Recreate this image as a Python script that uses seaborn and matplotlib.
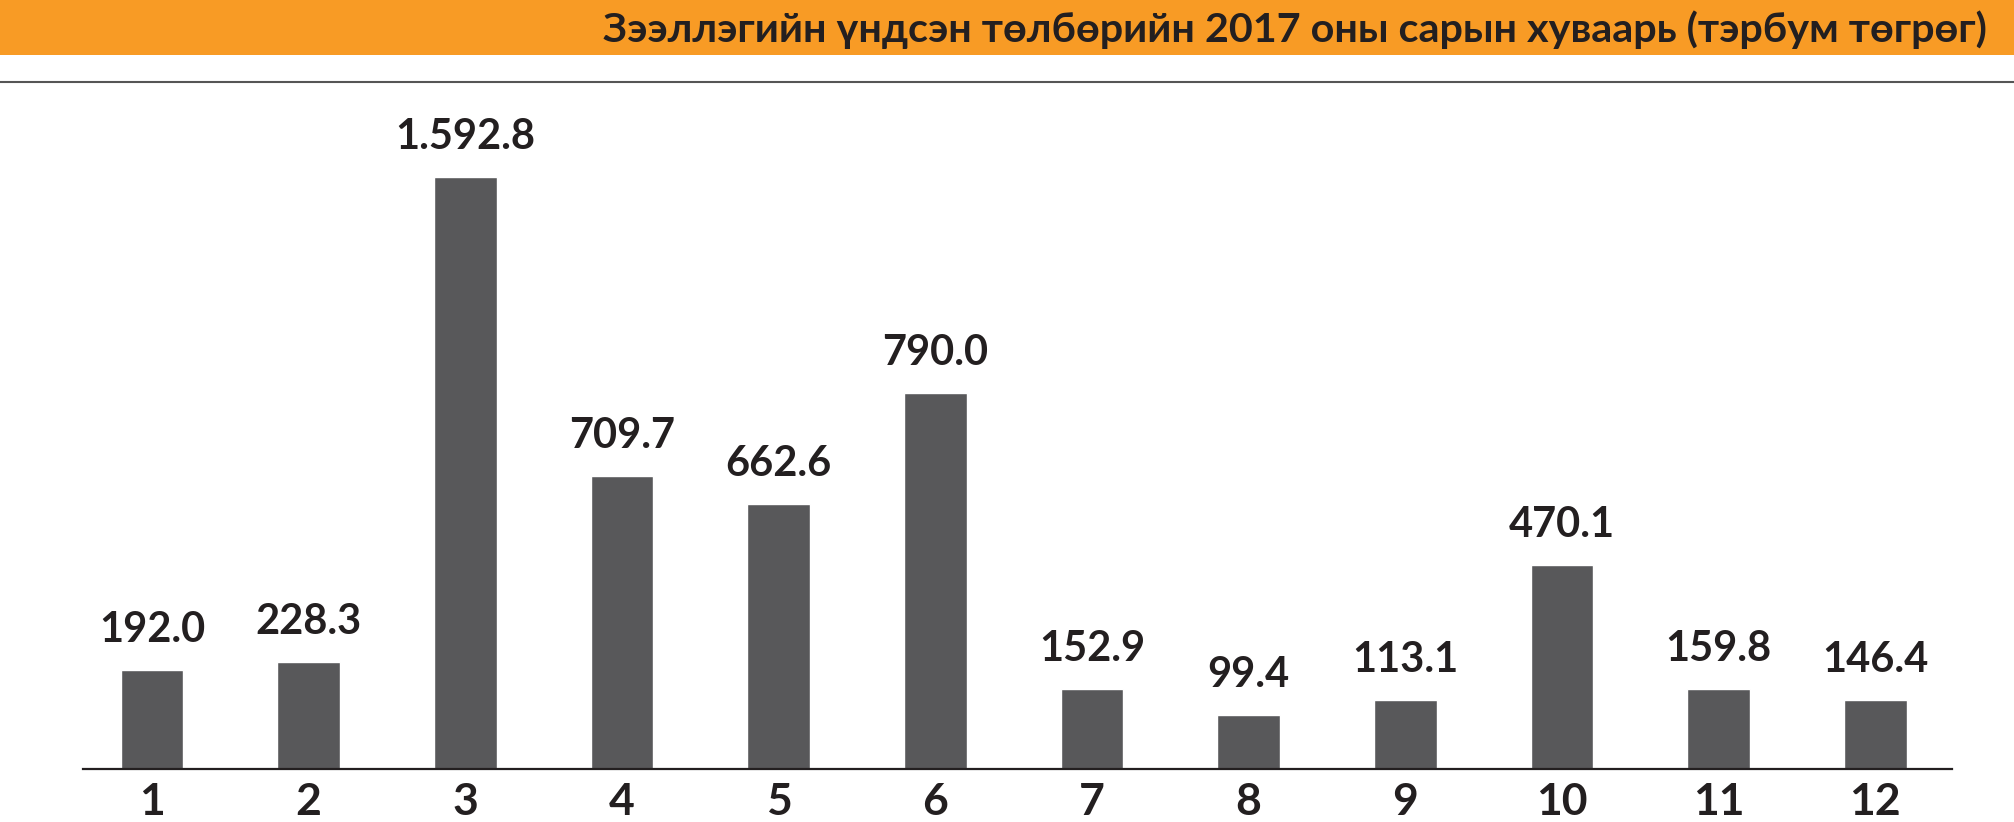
import numpy as np
import pandas as pd
import matplotlib
matplotlib.use("Agg")
import matplotlib.pyplot as plt
import seaborn as sns
from matplotlib.patches import Rectangle
from matplotlib.lines import Line2D

# ------------------------------------------------------------------
# Data
# ------------------------------------------------------------------
months = ["1", "2", "3", "4", "5", "6", "7", "8", "9", "10", "11", "12"]
# values printed above the bars (тэрбум төгрөг)
value_labels = ["192.0", "228.3", "1.592.8", "709.7", "662.6", "790.0",
                "152.9", "99.4", "113.1", "470.1", "159.8", "146.4"]
# bar heights as drawn in the source picture (its bars are not to scale
# with the printed values, so the drawn heights are kept separately)
bar_heights = [99, 107, 592, 293, 265, 376, 80, 54, 69, 204, 80, 69]

title = "Зээллэгийн үндсэн төлбөрийн 2017 оны сарын хуваарь (тэрбум төгрөг)"

BAR_COLOR = "#58585A"
TEXT_COLOR = "#231F20"
BANNER_COLOR = "#F89B25"

# ------------------------------------------------------------------
# Plot
# ------------------------------------------------------------------
sns.set_theme(style="white")
plt.rcParams["font.family"] = ["Lato", "DejaVu Sans"]

W, H = 2014, 822
fig = plt.figure(figsize=(W / 100, H / 100), dpi=100)

# orange title banner + grey rule
fig.patches.append(Rectangle((0, 1 - 55 / H), 1, 55 / H, transform=fig.transFigure,
                             facecolor=BANNER_COLOR, edgecolor="none", zorder=0))
fig.text(1987 / W, 1 - 30 / H, title, ha="right", va="center",
         fontsize=29.8, fontweight="bold", color=TEXT_COLOR)
fig.lines.append(Line2D([0, 1], [1 - 82 / H, 1 - 82 / H], transform=fig.transFigure,
                        color="#555555", linewidth=1.5))

ax = fig.add_axes([83 / W, 53 / H, 1869 / W, 650 / H])
df = pd.DataFrame({"month": months, "height": bar_heights})
sns.barplot(data=df, x="month", y="height", order=months, color=BAR_COLOR,
            saturation=1, width=0.4, ax=ax)

ax.set_xlim(-0.44, 11.49)
ax.set_ylim(0, 650)

for i, (h, lab) in enumerate(zip(bar_heights, value_labels)):
    ax.annotate(lab, (i, h), xytext=(0, 20), textcoords="offset points",
                ha="center", va="baseline", fontsize=30, fontweight="bold",
                color=TEXT_COLOR)

sns.despine(ax=ax, left=True)
ax.spines["bottom"].set_color(TEXT_COLOR)
ax.spines["bottom"].set_linewidth(1.6)
ax.set_yticks([])
ax.set_xlabel("")
ax.set_ylabel("")
ax.tick_params(axis="x", length=0, pad=9, labelsize=32, labelcolor=TEXT_COLOR)
for t in ax.get_xticklabels():
    t.set_fontweight("bold")

fig.savefig("out.png", dpi=100)
